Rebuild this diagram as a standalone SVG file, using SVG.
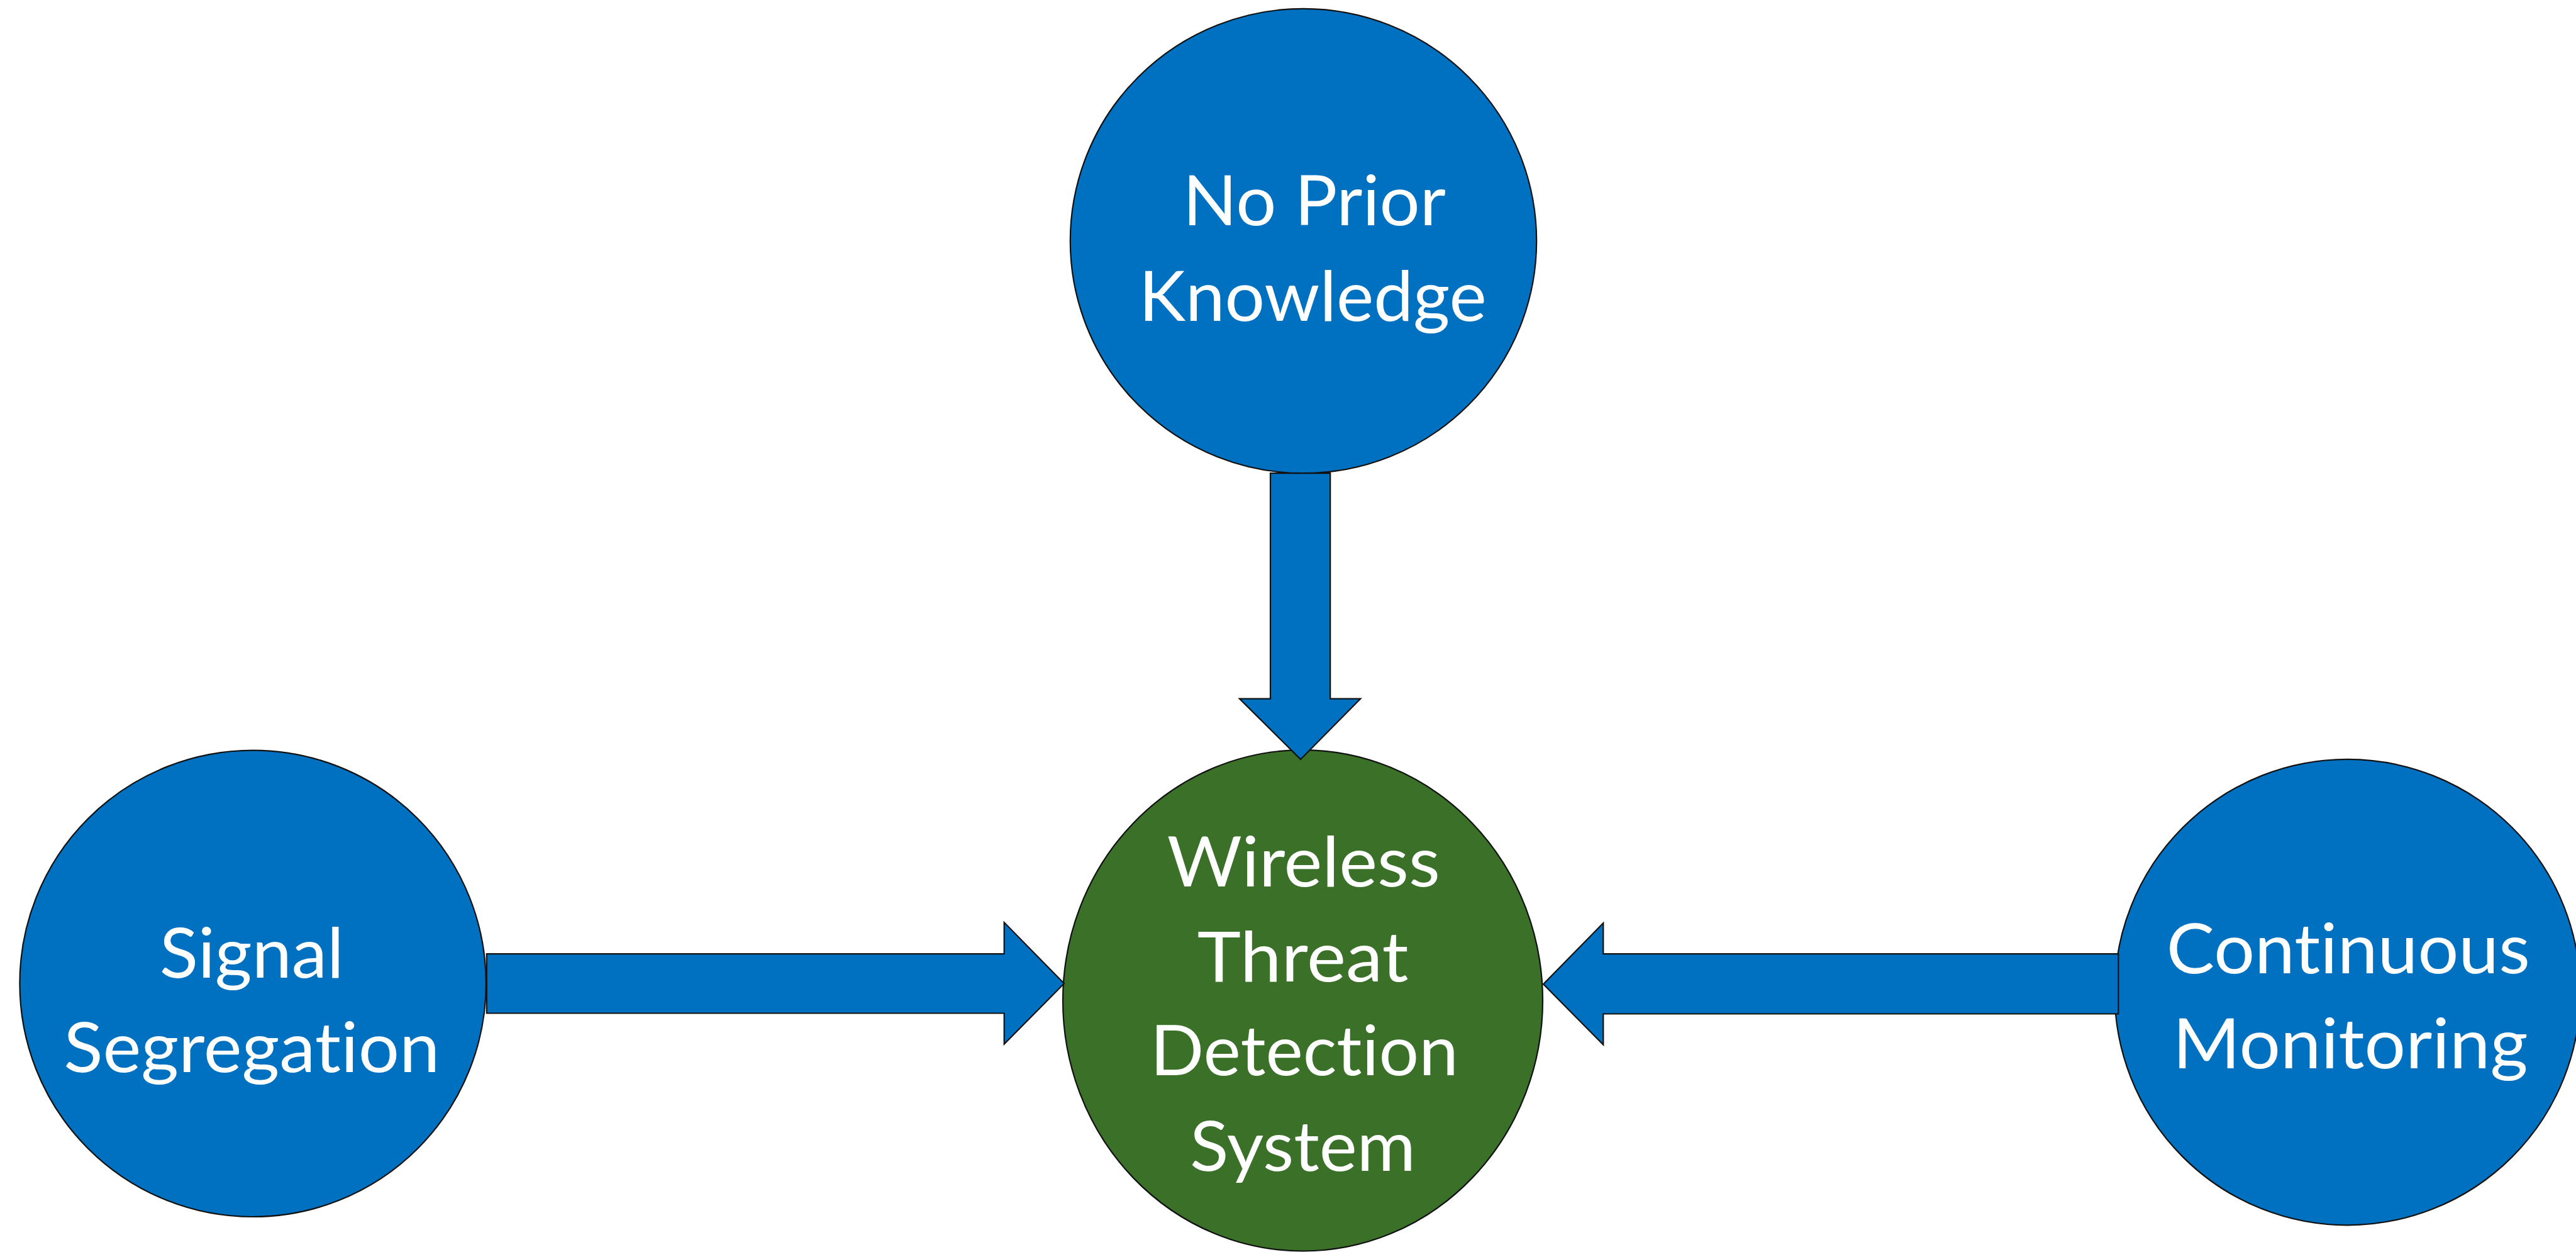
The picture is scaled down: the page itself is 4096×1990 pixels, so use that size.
<svg xmlns="http://www.w3.org/2000/svg" width="4096" height="1990" viewBox="0 0 4096 1990">
  <style>
    .blue { fill: #0070C0; stroke: #111; stroke-width: 2.2; }
    .green { fill: #3A7028; stroke: #111; stroke-width: 2.2; }
    .arrow { fill: #0070C0; stroke: #111; stroke-width: 2.2; stroke-linejoin: miter; }
    .label { font-family: Lato, "Liberation Sans", sans-serif; font-size: 110px; fill: #FFFFFF; text-anchor: middle; font-variant-ligatures: none; font-feature-settings: "liga" 0, "dlig" 0, "calt" 0; }
  </style>
  <rect x="0" y="0" width="4096" height="1990" fill="#FFFFFF"/>

  <!-- top input -->
  <g id="node-prior-knowledge">
    <ellipse class="blue" cx="2072.5" cy="383" rx="370.7" ry="369.2"/>
    <text class="label" x="2089.8" y="358.4" textLength="418" lengthAdjust="spacingAndGlyphs">No Prior</text>
    <text class="label" x="2087.2" y="509.7" textLength="553" lengthAdjust="spacingAndGlyphs">Knowledge</text>
  </g>

  <!-- left input -->
  <g id="node-signal-segregation">
    <circle class="blue" cx="402.1" cy="1563.3" r="370.7"/>
    <text class="label" x="400.3" y="1553.5" textLength="293" lengthAdjust="spacingAndGlyphs">Signal</text>
    <text class="label" x="400.3" y="1703.6" textLength="598" lengthAdjust="spacingAndGlyphs">Segregat&#8204;ion</text>
  </g>

  <!-- right input -->
  <g id="node-continuous-monitoring">
    <circle class="blue" cx="3732.6" cy="1577.1" r="370.2"/>
    <text class="label" x="3733.8" y="1546.7" textLength="578" lengthAdjust="spacingAndGlyphs">Cont&#8204;inuous</text>
    <text class="label" x="3737.3" y="1698.3" textLength="565" lengthAdjust="spacingAndGlyphs">Monit&#8204;oring</text>
  </g>

  <!-- central system -->
  <g id="node-threat-detection">
    <ellipse class="green" cx="2071.5" cy="1590.3" rx="381.5" ry="398.2"/>
    <text class="label" x="2072.7" y="1408.5" textLength="434" lengthAdjust="spacingAndGlyphs">Wireless</text>
    <text class="label" x="2071.7" y="1559.7" textLength="336" lengthAdjust="spacingAndGlyphs">Threat</text>
    <text class="label" x="2073.9" y="1709.3" textLength="490" lengthAdjust="spacingAndGlyphs">Detect&#8204;ion</text>
    <text class="label" x="2071.5" y="1860.5" textLength="359" lengthAdjust="spacingAndGlyphs">System</text>
  </g>

  <!-- block arrows into the central system -->
  <g id="connectors">
    <polygon class="arrow" points="2020,752.2 2115.2,752.2 2115.2,1110.6 2163.3,1110.6 2068,1206.9 1970.9,1110.6 2020,1110.6"/>
    <polygon class="arrow" points="773.8,1516.2 1596.7,1516.2 1596.7,1466.1 1692,1563.3 1596.7,1659.6 1596.7,1610.5 773.8,1610.5"/>
    <polygon class="arrow" points="3368.3,1516.2 2549.3,1516.2 2549.3,1467.1 2454,1564.3 2549.3,1660.6 2549.3,1611.5 3368.3,1611.5"/>
  </g>
</svg>
